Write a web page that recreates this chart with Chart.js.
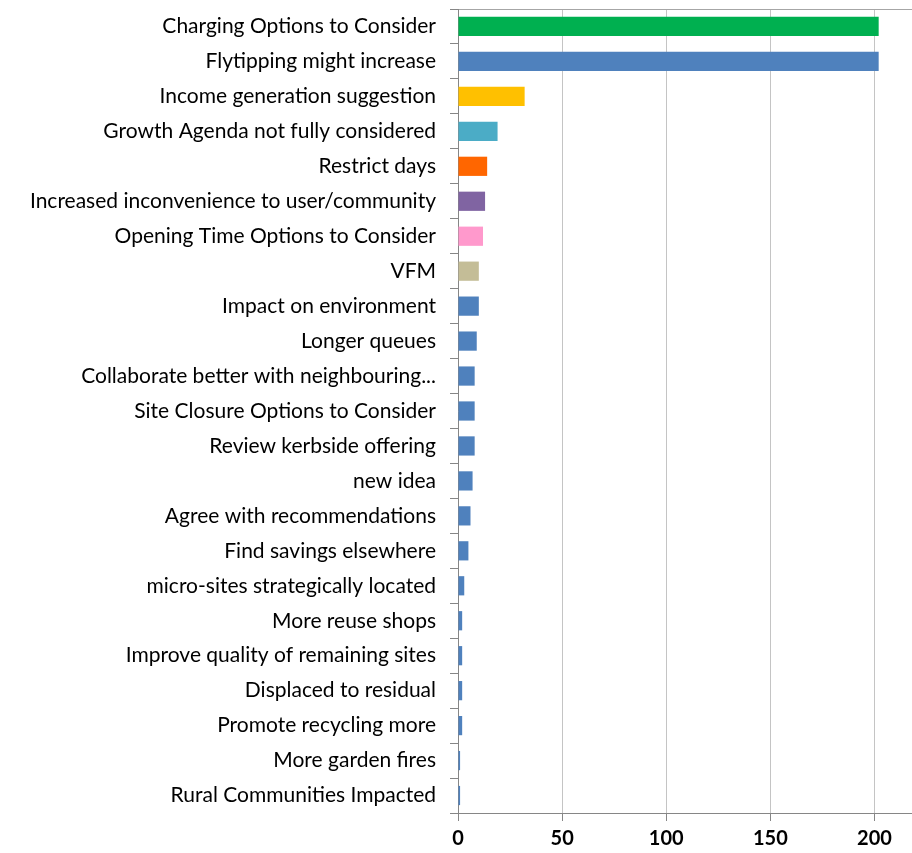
<!DOCTYPE html>
<html>
<head>
<meta charset="utf-8">
<script src="https://cdn.jsdelivr.net/npm/chart.js@4/dist/chart.umd.min.js"></script>
<style>
  html, body { margin: 0; padding: 0; background: #ffffff; }
  #wrap { width: 912px; height: 853px; }
</style>
</head>
<body>
<div id="wrap"><canvas id="c" width="912" height="853"></canvas></div>
<script>
// Responses grouped by theme
const categories = [
  'Charging Options to Consider',
  'Flytipping might increase',
  'Income generation suggestion',
  'Growth Agenda not fully considered',
  'Restrict days',
  'Increased inconvenience to user/community',
  'Opening Time Options to Consider',
  'VFM',
  'Impact on environment',
  'Longer queues',
  'Collaborate better with neighbouring...',
  'Site Closure Options to Consider',
  'Review kerbside offering',
  'new idea',
  'Agree with recommendations',
  'Find savings elsewhere',
  'micro-sites strategically located',
  'More reuse shops',
  'Improve quality of remaining sites',
  'Displaced to residual',
  'Promote recycling more',
  'More garden fires',
  'Rural Communities Impacted'
];
const counts = [202, 202, 32, 19, 14, 13, 12, 10, 10, 9, 8, 8, 8, 7, 6, 5, 3, 2, 2, 2, 2, 1, 1];
const barColors = [
  '#00B050', '#4F81BD', '#FFC000', '#4BACC6', '#FF6600', '#8064A2', '#FF99CC', '#C4BD97',
  '#4F81BD', '#4F81BD', '#4F81BD', '#4F81BD', '#4F81BD', '#4F81BD', '#4F81BD', '#4F81BD',
  '#4F81BD', '#4F81BD', '#4F81BD', '#4F81BD', '#4F81BD', '#4F81BD', '#4F81BD'
];
const xTickValues = [0, 50, 100, 150, 200];
const X_MAX = 218;

new Chart(document.getElementById('c'), {
  type: 'bar',
  data: {
    labels: categories,
    datasets: [{
      data: counts,
      backgroundColor: barColors,
      borderWidth: 0,
      categoryPercentage: 1.0,
      barPercentage: 0.55
    }]
  },
  options: {
    indexAxis: 'y',
    responsive: false,
    animation: false,
    layout: { padding: { top: 9, right: 0, bottom: 0, left: 0 } },
    plugins: { legend: { display: false }, tooltip: { enabled: false } },
    scales: {
      x: {
        min: 0,
        max: X_MAX,
        afterBuildTicks(scale) {
          scale.ticks = xTickValues.map(v => ({ value: v }));
        },
        afterFit(scale) { scale.height = 40; },
        grid: {
          color: '#C4C4C4',
          tickColor: '#868686',
          tickLength: 8,
          lineWidth: 1
        },
        border: { color: '#868686', width: 1 },
        ticks: {
          color: '#000000',
          padding: 6,
          font: { family: 'Lato', size: 20, weight: 'bold' }
        }
      },
      // frame line along the top of the plot area
      xTop: {
        type: 'linear',
        position: 'top',
        axis: 'x',
        min: 0,
        max: X_MAX,
        afterFit(scale) { scale.height = 0; },
        grid: { drawOnChartArea: false, drawTicks: false },
        border: { display: true, color: '#A6A6A6', width: 1 },
        ticks: { display: false }
      },
      y: {
        offset: true,
        afterFit(scale) {
          scale.width = 458;
          scale.paddingTop = 0;
          scale.paddingBottom = 0;
        },
        grid: {
          offset: true,
          drawOnChartArea: false,
          tickColor: '#868686',
          tickLength: 8
        },
        border: { color: '#868686', width: 1 },
        ticks: {
          color: '#000000',
          padding: 14,
          autoSkip: false,
          font: { family: 'Lato', size: 21 }
        }
      }
    }
  }
});
</script>
</body>
</html>
